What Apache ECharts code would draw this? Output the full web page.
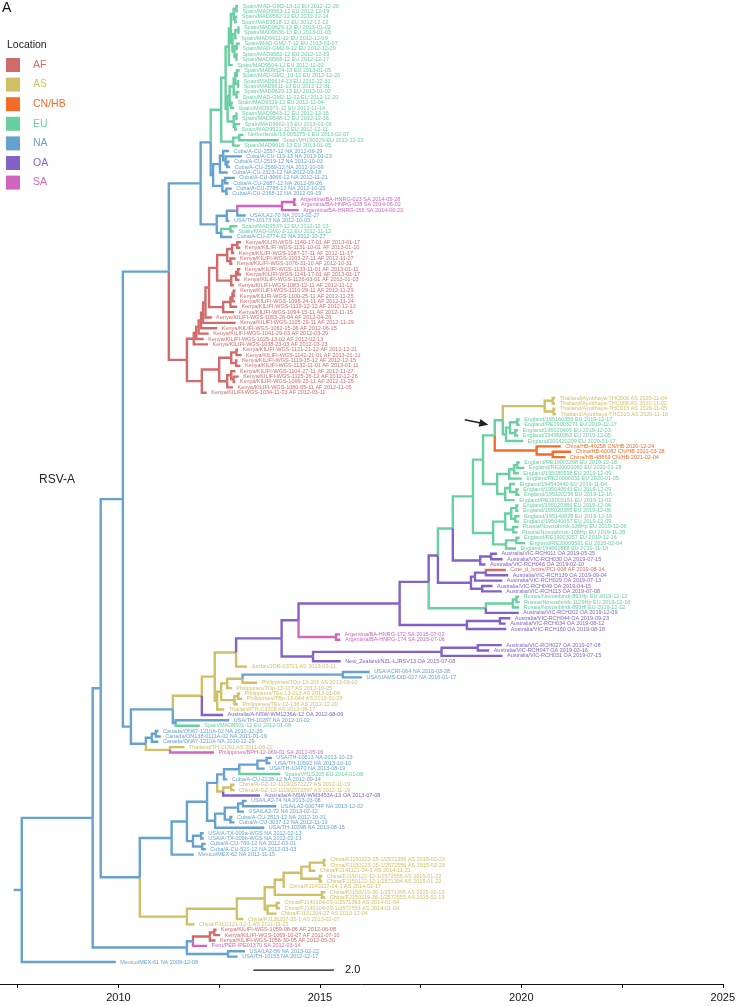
<!DOCTYPE html>
<html><head><meta charset="utf-8">
<script src="https://cdn.jsdelivr.net/npm/echarts@6/dist/echarts.min.js"></script>
<style>html,body{margin:0;padding:0;background:#fff}#c{width:738px;height:1006px}</style>
</head><body><div id="c"></div>
<script>
// ---------------- data ----------------
const locCodes  = ['AF','AS','CN','EU','NA','OA','SA'];
const locNames  = ['AF','AS','CN/HB','EU','NA','OA','SA'];
const locColors = ['#D16B6B','#CFBF65','#F36C2A','#68CFA0','#65A2D0','#8262C9','#D065BE'];

// tip labels: "name location collection-date", top to bottom
const tipLabels = [
"Spain/MAD-GM2-10-12 EU 2012-12-20","Spain/MAD9563-12 EU 2012-12-19","Spain/MAD9562-12 EU 2012-12-14","Spain/MAD9518-12 EU 2012-12-12",
"Spain/MAD9626-13 EU 2013-01-02","Spain/MAD9636-13 EU 2013-01-03","Spain/MAD9611-12 EU 2012-12-09","Spain/MAD-GM2-7-12 EU 2013-01-07",
"Spain/MAD-GM2-9-12 EU 2012-12-20","Spain/MAD9582-12 EU 2012-12-19","Spain/MAD9568-12 EU 2012-12-17","Spain/MAD9504-12 EU 2012-11-02",
"Spain/MAD9624-13 EU 2013-01-05","Spain/MAD-GM2_10-12 EU 2012-12-20","Spain/MAD9614-13 EU 2012-12-31","Spain/MAD9611-13 EU 2012-12-31",
"Spain/MAD9629-13 EU 2013-01-02","Spain/MAD-GM2-11-12 EU 2012-12-20","Spain/MAD9329-12 EU 2012-11-04","Spain/MAD9371-12 EU 2012-11-14",
"Spain/MAD9543-12 EU 2012-12-15","Spain/MAD9548-12 EU 2012-12-16","Spain/MAD9662-13 EU 2013-01-09","Spain/MAD9521-12 EU 2012-12-11",
"Netherlands/13-005275-1 EU 2013-02-07","Spain/VH190329 EU 2013-12-23","Spain/MAD9616-13 EU 2013-01-05",
"Cuba/A-CU-2557-12 NA 2012-09-29","Cuba/A-CU-113-13 NA 2013-01-23","Cuba/A-CU-2519-12 NA 2012-10-03","Cuba/A-CU-2569-12 NA 2012-10-09",
"Cuba/A-CU-2323-12 NA 2012-09-18","Cuba/A-CU-3066-12 NA 2012-11-21","Cuba/A-CU-2687-12 NA 2012-09-26","Cuba/A-CU-2785-12 NA 2012-10-25",
"Cuba/A-CU-2368-12 NA 2012-09-19",
"Argentina/BA-HNRG-023 SA 2014-05-28","Argentina/BA-HNRG-028 SA 2014-06-02","Argentina/BA-HNRG-056 SA 2014-06-23",
"USA/LA2-70 NA 2013-02-27","USA/TH-10173 NA 2012-10-03","Spain/MAD9537-12 EU 2012-12-13","Spain/MAD-GM2-3-12 EU 2012-11-12",
"Cuba/A-CU-2774-12 NA 2012-10-27",
"Kenya/KILIFI-WGS-1140-17-01 AF 2013-01-17","Kenya/KILIFI-WGS-1131-10-01 AF 2013-01-10","Kenya/KILIFI-WGS-1087-17-11 AF 2012-11-17",
"Kenya/KILIFI-WGS-1103-27-11 AF 2012-11-27","Kenya/KILIFI-WGS-1076-31-10 AF 2012-10-31","Kenya/KILIFI-WGS-1133-11-01 AF 2013-01-11",
"Kenya/KILIFI-WGS-1141-17-01 AF 2013-01-17","Kenya/KILIFI-WGS-1126-03-01 AF 2013-01-03","Kenya/KILIFI-WGS-1083-12-11 AF 2012-11-12",
"Kenya/KILIFI-WGS-1110-29-11 AF 2012-11-29","Kenya/KILIFI-WGS-1100-25-11 AF 2012-11-25","Kenya/KILIFI-WGS-1096-24-11 AF 2012-11-24",
"Kenya/KILIFI-WGS-1119-12-12 AF 2012-12-12","Kenya/KILIFI-WGS-1094-15-11 AF 2012-11-15","Kenya/KILIFI-WGS-1053-26-04 AF 2012-04-26",
"Kenya/KILIFI-WGS-1105-29-11 AF 2012-11-29","Kenya/KILIFI-WGS-1062-15-06 AF 2012-06-15","Kenya/KILIFI-WGS-1041-29-03 AF 2012-03-29",
"Kenya/KILIFI-WGS-1025-13-02 AF 2012-02-13","Kenya/KILIFI-WGS-1038-23-03 AF 2012-03-23","Kenya/KILIFI-WGS-1121-21-12 AF 2012-12-21",
"Kenya/KILIFI-WGS-1142-21-01 AF 2013-01-21","Kenya/KILIFI-WGS-1119-15-12 AF 2012-12-15","Kenya/KILIFI-WGS-1132-11-01 AF 2013-01-11",
"Kenya/KILIFI-WGS-1104-27-11 AF 2012-11-27","Kenya/KILIFI-WGS-1125-26-12 AF 2012-12-26","Kenya/KILIFI-WGS-1099-25-11 AF 2012-11-25",
"Kenya/KILIFI-WGS-1080-05-11 AF 2012-11-05","Kenya/KILIFI-WGS-1034-11-03 AF 2012-03-11",
"Thailand/Ayutthaya-THC006 AS 2020-11-04","Thailand/Ayutthaya-THC008 AS 2020-11-02","Thailand/Ayutthaya-THC013 AS 2020-11-05",
"Thailand/Ayutthaya-THC015 AS 2020-11-10",
"England/195160359 EU 2019-12-17","England/RE19003271 EU 2019-12-17","England/195020409 EU 2019-12-03","England/194960363 EU 2019-12-05",
"England/200420299 EU 2020-01-17",
"China/HB-40258 CN/HB 2020-12-24","China/HB-60082 CN/HB 2021-03-28","China/HB-48869 CN/HB 2021-02-04",
"England/RE19003298 EU 2019-12-18","England/RE20000060 EU 2020-01-28","England/195080598 EU 2019-12-09","England/RE20000031 EU 2020-01-05",
"England/194540440 EU 2019-11-04","England/195040643 EU 2019-12-09","England/195120236 EU 2019-12-16","England/RE19003151 EU 2019-11-02",
"England/195020386 EU 2019-12-06","England/195020385 EU 2019-12-06","England/195140828 EU 2019-12-16","England/195040657 EU 2019-12-09",
"Russia/Novosibirsk-138Hp EU 2019-12-06","Russia/Novosibirsk-108Hp EU 2019-11-28","England/RE19003257 EU 2019-12-16",
"England/RE20000561 EU 2020-02-04","England/194660888 EU 2019-11-13",
"Australia/VIC-RCH011 OA 2019-05-25","Australia/VIC-RCH030 OA 2019-07-15","Australia/VIC-RCH046 OA 2019-02-10",
"Cote_d_Ivoire/PCI-008 AF 2019-08-14","Australia/VIC-RCH139 OA 2019-09-04","Australia/VIC-RCH029 OA 2019-07-13",
"Australia/VIC-RCH049 OA 2019-04-15","Australia/VIC-RCH113 OA 2019-07-08",
"Russia/Novosibirsk-893Hp EU 2019-12-12","Russia/Novosibirsk-1129Hp EU 2019-12-16","Russia/Novosibirsk-893Hl EU 2019-12-12",
"Australia/VIC-RCH202 OA 2019-12-09","Australia/VIC-RCH044 OA 2019-09-23","Australia/VIC-RCH034 OA 2019-08-12",
"Australia/VIC-RCH160 OA 2019-08-18",
"Argentina/BA-HNRG-172 SA 2015-07-02","Argentina/BA-HNRG-174 SA 2015-07-06",
"Australia/VIC-RCH027 OA 2019-07-08","Australia/VIC-RCH047 OA 2019-03-16","Australia/VIC-RCH031 OA 2019-07-15",
"New_Zealand/NZL-LJRSV13 OA 2015-07-08","Jordan/JOR-03721 AS 2013-03-11",
"USA/ACRI-064 NA 2016-03-28","USA/UAMS-DID-027 NA 2016-01-17",
"Philippines/TOp-13-203 AS 2013-06-10","Philippines/TOp-12-117 AS 2012-10-25","Philippines/TEv-13-013 AS 2013-01-08",
"Philippines/TBp-13-044 AS 2013-01-28","Philippines/TEv-12-138 AS 2012-12-20","Thailand/TH-C3208 AS 2012-08-17",
"Australia/A-NSW-WM1236A-12 OA 2012-08-06","USA/TH-10287 NA 2012-10-02","Spain/MAD8501-12 EU 2012-01-08",
"Canada/ON67-1210A-02 NA 2010-12-29","Canada/ON138-0111A-02 NA 2011-01-19","Canada/ON67-1210A NA 2010-12-29",
"Thailand/TH-CU91 AS 2011-08-22","Philippines/BPH-12-069-01 SA 2012-05-16",
"USA/TH-10613 NA 2013-10-23","USA/TH-10592 NA 2013-10-10","USA/TH-10470 NA 2013-08-19","Spain/VH1D205 EU 2014-01-08",
"Cuba/A-CU-2228-12 NA 2012-09-14","China/A-GZ-12-1119/2572227 AS 2012-11-19","China/A-GZ-12-1119/2573397 AS 2012-11-19",
"Australia/A-NSW-WM3453A-13 OA 2013-07-08",
"USA/LA2-74 NA 2013-03-08","USA/LA2-00074P NA 2013-12-02","USA/LA2-72 NA 2013-02-12","Cuba/A-CU-2813-12 NA 2012-10-31",
"Cuba/A-CU-3037-12 NA 2012-11-19","USA/TH-10398 NA 2013-08-15","USA/A-TX-009a-WGS NA 2012-02-13","USA/A-TX-009b-WGS NA 2012-02-13",
"Cuba/A-CU-769-12 NA 2012-03-01","Cuba/A-CU-520-12 NA 2012-03-03","Mexico/MEX-62 NA 2011-11-15",
"China/FJ150223-25-1/2571396 AS 2015-02-23","China/FJ150223-25-1/2572556 AS 2015-02-23","China/FJ141121-24-1 AS 2014-11-21",
"China/FJ150122-12-1/2572556 AS 2015-01-22","China/FJ150122-12-1/2571394 AS 2015-01-22","China/FJ140217-14-1 AS 2014-02-17",
"China/FJ150219-36-1/2571395 AS 2015-02-19","China/FJ150219-36-1/2572555 AS 2015-02-19","China/FJ140104-09-1/2571393 AS 2014-01-04",
"China/FJ140104-09-1/2572553 AS 2014-01-04","China/FJ131204-27 AS 2013-12-04","China/FJ130207-35-1 AS 2013-02-07",
"China/FJ111121-12-1 AS 2011-11-21",
"Kenya/KILIFI-WGS-1059-08-06 AF 2012-06-08","Kenya/KILIFI-WGS-1069-10-07 AF 2012-07-10","Kenya/KILIFI-WGS-1056-30-05 AF 2012-05-30",
"Peru/PER-IPE01370 SA 2012-03-14","USA/LA2-56 NA 2013-02-22","USA/TH-10155 NA 2012-12-17","Mexico/MEX-61 NA 2009-12-08"
];

// clades: (children)LOCATION@node-date ; numbers are tip indices, names refer to other clades
const clades = [
["ROOT","(A,178)NA@2007.60"],
["A","(B,Z)NA@2009.36"],
["B","(C,Y)NA@2009.56"],
["C","(D,X)NA@2010.11"],
["D","(E,K)NA@2011.25"],
["E","(E1,E2)NA@2012.04"],
["E1","(S0,Cuba)NA@2012.29"],
["S0","((SpA,SpB)EU@2012.66,N1)EU@2012.55"],
["SpA","((((0,1)EU@2012.93,(2,3)EU@2012.90)EU@2012.86,(((4,5)EU@2012.98,6)EU@2012.90,((7,8)EU@2012.94,(9,10)EU@2012.93)EU@2012.88)EU@2012.83)EU@2012.79,11)EU@2012.74"],
["SpB","(((((12,13)EU@2012.94,(14,15)EU@2012.97)EU@2012.90,(16,17)EU@2012.93)EU@2012.86,(18,19)EU@2012.80)EU@2012.76,((20,21)EU@2012.93,(22,23)EU@2012.90)EU@2012.86)EU@2012.71"],
["N1","((24,25)EU@2013.00,26)EU@2012.85"],
["Cuba","(((27,(28,(29,30)NA@2012.70)NA@2012.66)NA@2012.60,31)NA@2012.52,((32,33)NA@2012.65,(34,35)NA@2012.68)NA@2012.58)NA@2012.35"],
["E2","(((((36,37)SA@2014.36,38)SA@2014.06,39)NA@2012.95,40)NA@2012.69,((41,42)EU@2012.78,43)NA@2012.55)NA@2012.44"],
["K","(K1,K2)AF@2011.70"],
["K1","(((((((Kg,Kh)AF@2012.25,58)AF@2012.16,59)AF@2012.10,60)AF@2012.05,61)AF@2011.99,62)AF@2011.93,63)AF@2011.87"],
["Kg","((((44,45)AF@2012.95,46)AF@2012.82,(47,48)AF@2012.78)AF@2012.70,(((49,50)AF@2012.97,51)AF@2012.92,52)AF@2012.80)AF@2012.45"],
["Kh","((((53,54)AF@2012.86,55)AF@2012.83,56)AF@2012.78,57)AF@2012.60"],
["K2","((((64,65)AF@2012.93,(66,67)AF@2012.92)AF@2012.80,((68,(69,70)AF@2012.86)AF@2012.80,71)AF@2012.70)AF@2012.50,72)AF@2012.07"],
["X","(X1,X2)NA@2010.31"],
["X1","(Xa,(133,134)NA@2011.42)NA@2011.35"],
["Xa","(Xb,132)AS@2012.07"],
["Xb","(Xc,(Phil,131)AS@2012.45)AS@2012.39"],
["Xc","(O1,123)AS@2012.92"],
["O1","(O2,O3)OA@2014.05"],
["O2","(O4,(117,118)SA@2015.40)OA@2014.47"],
["O3","(((119,120)OA@2018.92,121)OA@2018.02,122)OA@2014.83"],
["O4","(O5,O6)OA@2016.98"],
["O5","(O7,RusG)OA@2017.70"],
["O6","((114,115)OA@2019.47,116)OA@2018.65"],
["O7","(EngP,AusB2)OA@2017.93"],
["EngP","((EngA,Eng3)EU@2018.80,AusB1)EU@2018.30"],
["EngA","((TE,ChHB)EU@2019.34,Eng2)EU@2019.05"],
["TE","(Thai,Eng1)EU@2019.54"],
["Thai","((73,74)AS@2020.78,(75,76)AS@2020.80)AS@2020.58"],
["Eng1","(((77,78)EU@2019.90,(79,80)EU@2019.85)EU@2019.72,81)EU@2019.62"],
["ChHB","(82,(83,84)CN@2020.78)CN@2020.38"],
["Eng2","((((85,86)EU@2019.90,87)EU@2019.82,88)EU@2019.70,((89,(90,91)EU@2019.88)EU@2019.72,92)EU@2019.60)EU@2019.40"],
["Eng3","((((93,94)EU@2019.88,(95,96)EU@2019.85)EU@2019.75,(97,98)EU@2019.80)EU@2019.60,((99,100)EU@2019.88,101)EU@2019.62)EU@2019.30"],
["AusB1","((102,103)OA@2019.25,104)OA@2018.98"],
["AusB2","(((105,106)OA@2019.12,107)OA@2018.85,(108,109)OA@2019.03)OA@2018.75"],
["RusG","(((110,111)EU@2019.88,112)EU@2019.79,113)EU@2019.12"],
["Phil","((((124,125)NA@2015.57,126)AS@2013.08,127)AS@2012.70,((128,129)AS@2012.97,130)AS@2012.88)AS@2012.55"],
["X2","(((135,136)NA@2010.93,137)NA@2010.83,(138,139)AS@2011.28)NA@2010.68"],
["Y","(Y1,FJ)NA@2010.53"],
["Y1","(((Yg12,Yg3)NA@2012.20,Yg4)NA@2011.70,158)NA@2011.32"],
["Yg12","(((((140,141)NA@2013.68,142)NA@2013.45,143)NA@2013.00,144)NA@2012.62,((145,146)AS@2012.80,147)AS@2012.60)NA@2012.45"],
["Yg3","((((148,149)NA@2013.09,150)NA@2012.97,(151,152)NA@2012.78)NA@2012.64,153)NA@2012.40"],
["Yg4","((154,155)NA@2012.05,(156,157)NA@2012.08)NA@2011.85"],
["FJ","(((FJc,FJd)AS@2013.63,170)AS@2012.94,171)AS@2011.70"],
["FJc","(((((159,160)AS@2015.10,161)AS@2014.75,(162,163)AS@2015.00)AS@2014.54,164)AS@2014.10,(165,166)AS@2015.05)AS@2013.88"],
["FJd","((167,168)AS@2013.93,169)AS@2013.70"],
["Z","((((172,173)AF@2012.38,174)AF@2012.27,175)NA@2011.85,(176,177)NA@2012.72)NA@2011.70"]
];
const rootEdge = 0.2;                  // years
const arrowTips = [73, 81];            // arrow marks the MRCA of these tips
const axisRange = [2007.06, 2025];
const axisTickYears  = [2007.5, 2010, 2012.5, 2015, 2017.5, 2020, 2022.5, 2025];
const axisLabelYears = [2010, 2015, 2020, 2025];
const scaleBar = [2013.35, 2.0];       // start year, length

// ---------------- build tree ----------------
const cladeMap = {}; clades.forEach(c => cladeMap[c[0]] = c[1]);
function decYear(s){ const [y,m,d]=s.split('-').map(Number);
  const a=Date.UTC(y,0,1), b=Date.UTC(y+1,0,1); return y + (Date.UTC(y,m-1,d)-a)/(b-a); }
const tips = tipLabels.map((l,i)=>{ const p=l.split(' '); return {tip:i, label:l, loc:locNames.indexOf(p[1]), t:decYear(p[2]), y:i}; });
function parseClade(str){
  const s=str.replace(/\s+/g,''); let i=0;
  function node(){
    if(s[i]==='('){ i++; const ch=[node()]; while(s[i]===','){i++; ch.push(node());} i++;
      const m=/^([A-Z]+)@([0-9.]+)/.exec(s.slice(i)); i+=m[0].length;
      return {children:ch, loc:locCodes.indexOf(m[1]), t:+m[2]}; }
    const m=/^([0-9]+|[A-Za-z][A-Za-z0-9]*)/.exec(s.slice(i)); i+=m[0].length;
    if(/^\d/.test(m[0])) return tips[+m[0]];
    return parseClade(cladeMap[m[0]]);
  }
  return node();
}
const root = parseClade(cladeMap.ROOT);
const edges = locNames.map(()=>[]);
let arrowNode=null, bestSpan=1e9;
(function layout(n){
  if(n.children){
    n.children.forEach(layout);
    n.y = n.children.reduce((s,c)=>s+c.y,0)/n.children.length;
    n.lo = Math.min(...n.children.map(c=>c.lo)); n.hi = Math.max(...n.children.map(c=>c.hi));
    n.children.forEach(c=>edges[c.loc].push([n.t,n.y,c.t,c.y]));
    if(n.lo<=arrowTips[0] && n.hi>=arrowTips[1] && n.hi-n.lo<bestSpan){bestSpan=n.hi-n.lo; arrowNode=n;}
  } else { n.lo=n.hi=n.tip; }
})(root);
edges[root.loc].push([root.t-rootEdge,root.y,root.t,root.y]);

const FONT='"Liberation Sans", Arial, Helvetica, sans-serif';
const series=[];
locNames.forEach((name,li)=>{
  series.push({type:'custom', name, coordinateSystem:'cartesian2d', silent:true, clip:false,
    itemStyle:{color:locColors[li]}, encode:{x:[0,2], y:[1,3]}, data:edges[li],
    renderItem:(p,api)=>{ const a=api.coord([api.value(0),api.value(1)]), b=api.coord([api.value(2),api.value(3)]);
      return {type:'polyline', shape:{points:[[a[0],a[1]],[a[0],b[1]],[b[0],b[1]]]},
        style:{stroke:locColors[li], lineWidth:2.4, fill:null, lineJoin:'miter', lineCap:'butt'}}; }});
});
locNames.forEach((name,li)=>{
  const d = tips.filter(t=>t.loc===li).map(t=>[t.t,t.y,t.tip]);
  series.push({type:'custom', name, coordinateSystem:'cartesian2d', silent:true, clip:false,
    itemStyle:{color:locColors[li]}, encode:{x:0,y:1}, data:d,
    renderItem:(p,api)=>{ const a=api.coord([api.value(0),api.value(1)]);
      return {type:'text', x:a[0]+4.5, y:a[1], style:{text:tipLabels[api.value(2)], fill:locColors[li],
        fontSize:5.5, fontFamily:FONT, align:'left', verticalAlign:'middle'}}; }});
});
series.push({type:'custom', name:'scale', coordinateSystem:'cartesian2d', silent:true, clip:false,
  encode:{x:0,y:1}, data:[[scaleBar[0], 179.5, scaleBar[1]]],
  renderItem:(p,api)=>{ const a=api.coord([api.value(0),api.value(1)]), b=api.coord([api.value(0)+api.value(2),api.value(1)]);
    return {type:'group', children:[
      {type:'line', shape:{x1:a[0],y1:a[1],x2:b[0],y2:b[1]}, style:{stroke:'#111', lineWidth:1.3}},
      {type:'text', x:b[0]+11, y:a[1], style:{text:api.value(2).toFixed(1), fill:'#111', fontSize:11, fontFamily:FONT, align:'left', verticalAlign:'middle'}}]}; }});

const chart = echarts.init(document.getElementById('c'));
chart.setOption({
  animation:false,
  backgroundColor:'#fff',
  grid:{left:0, top:6, width:723, height:956},
  xAxis:{type:'value', min:axisRange[0], max:axisRange[1], position:'bottom', offset:22,
    axisLine:{onZero:false, lineStyle:{color:'#111', width:1}},
    axisTick:{length:4, lineStyle:{color:'#111'}, customValues:axisTickYears},
    splitLine:{show:false},
    axisLabel:{fontSize:11, color:'#111', fontFamily:FONT, margin:8, customValues:axisLabelYears,
      formatter:v=>String(v)}},
  yAxis:{type:'value', inverse:true, min:0, max:178, show:false},
  legend:{orient:'vertical', left:6, top:58, padding:0, itemWidth:14, itemHeight:14, itemGap:5.6, selectedMode:false,
    data:locNames.map((n,i)=>({name:n, icon:'rect', itemStyle:{color:locColors[i], borderWidth:0}, textStyle:{color:locColors[i]}})),
    textStyle:{fontSize:10.5, fontFamily:FONT, padding:[0,0,0,8]}},
  graphic:{elements:[
    {type:'text', id:'panel', left:2, top:1, style:{text:'A', fontSize:14, fontFamily:FONT, fill:'#111'}},
    {type:'text', id:'loc', left:7, top:40, style:{text:'Location', fontSize:10.5, fontFamily:FONT, fill:'#222'}},
    {type:'text', id:'rsv', left:39, top:474, style:{text:'RSV-A', fontSize:12, fontFamily:FONT, fill:'#222'}}
  ]},
  series
});
// arrow pointing at a node
const p = chart.convertToPixel({gridIndex:0},[arrowNode.t, arrowNode.y]);
const tail=[p[0]-38,p[1]-0.5], tip=[p[0]-14.5,p[1]+4.5];
const dx=tip[0]-tail[0], dy=tip[1]-tail[1], L=Math.hypot(dx,dy), ux=dx/L, uy=dy/L;
const hb=[tip[0]-ux*9, tip[1]-uy*9];
chart.setOption({graphic:{elements:[
  {type:'line', id:'arrowLine', shape:{x1:tail[0],y1:tail[1],x2:hb[0]+ux*1,y2:hb[1]+uy*1}, style:{stroke:'#222', lineWidth:1.6}},
  {type:'polygon', id:'arrowHead', shape:{points:[tip,[hb[0]-uy*4,hb[1]+ux*4],[hb[0]+uy*4,hb[1]-ux*4]]}, style:{fill:'#222'}}
]}});
</script></body></html>
